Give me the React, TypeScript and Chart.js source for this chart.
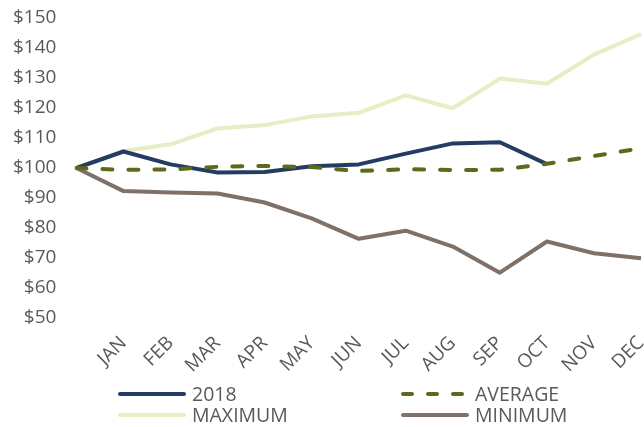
import React, { useEffect, useRef } from "react";
import { Chart, registerables } from "chart.js";

Chart.register(...registerables);

const categories = ["", "JAN", "FEB", "MAR", "APR", "MAY", "JUN", "JUL", "AUG", "SEP", "OCT", "NOV", "DEC"];
const series2018 = [100, 105.5, 101.2, 98.5, 98.7, 100.6, 101.2, 104.8, 108.2, 108.6, 101.3, null, null];
const seriesAverage = [100, 99.4, 99.5, 100.4, 100.7, 100.3, 99.0, 99.6, 99.3, 99.4, 101.4, 104.0, 106.6];
const seriesMaximum = [100, 105.7, 107.9, 113.2, 114.3, 117.2, 118.4, 124.2, 119.9, 129.8, 128.1, 137.8, 144.6];
const seriesMinimum = [100, 92.3, 91.8, 91.5, 88.5, 83.2, 76.4, 79.1, 73.8, 65.1, 75.5, 71.6, 69.9];
const yTickMin = 50;
const yTickMax = 150;
const yTickStep = 10;

const FONT = "'Open Sans', 'Noto Sans', sans-serif";
const TEXT = "#595959";

const legendItems = [
  { label: "2018", color: "#253b62", dash: false },
  { label: "AVERAGE", color: "#5f691c", dash: true },
  { label: "MAXIMUM", color: "#e7edc4", dash: false },
  { label: "MINIMUM", color: "#7f7168", dash: false },
];

function LegendEntry({ label, color, dash }: { label: string; color: string; dash: boolean }) {
  return (
    <div style={{ display: "flex", alignItems: "center", height: 21 }}>
      <svg width={68} height={8} style={{ display: "block" }}>
        <line
          x1={2}
          y1={4}
          x2={66}
          y2={4}
          stroke={color}
          strokeWidth={4}
          strokeLinecap="round"
          strokeDasharray={dash ? "9 16" : undefined}
        />
      </svg>
      <span style={{ marginLeft: 6, fontFamily: FONT, fontSize: 19.5, color: TEXT, lineHeight: "21px" }}>{label}</span>
    </div>
  );
}

export default function App() {
  const ref = useRef<HTMLCanvasElement>(null);

  useEffect(() => {
    document.body.style.margin = "0";
    const Y_PAD = 20;
    const chart = new Chart(ref.current!, {
      type: "line",
      data: {
        labels: categories,
        datasets: [
          {
            label: "2018",
            data: series2018,
            borderColor: legendItems[0].color,
            borderWidth: 4,
            order: 1,
          },
          {
            label: "AVERAGE",
            data: seriesAverage,
            borderColor: legendItems[1].color,
            borderWidth: 4,
            borderDash: [10, 16],
            borderCapStyle: "round",
            order: 0,
          },
          {
            label: "MAXIMUM",
            data: seriesMaximum,
            borderColor: legendItems[2].color,
            borderWidth: 4,
            order: 2,
          },
          {
            label: "MINIMUM",
            data: seriesMinimum,
            borderColor: legendItems[3].color,
            borderWidth: 4,
            order: 3,
          },
        ],
      },
      options: {
        animation: false,
        responsive: false,
        maintainAspectRatio: false,
        elements: {
          point: { radius: 0, hoverRadius: 0 },
          line: { tension: 0, borderJoinStyle: "round", fill: false },
        },
        layout: { padding: { left: 13, top: 18, right: 3, bottom: 36 } },
        plugins: { legend: { display: false }, tooltip: { enabled: false } },
        scales: {
          x: {
            grid: { display: false, drawTicks: false },
            border: { display: false },
            afterFit: (scale: any) => {
              scale.paddingRight = 0;
              scale.paddingLeft = 0;
            },
            ticks: {
              autoSkip: false,
              maxRotation: 45,
              minRotation: 45,
              color: TEXT,
              font: { family: FONT, size: 19 },
              padding: 14,
            },
          },
          y: {
            min: yTickMin,
            max: yTickMax,
            grid: { display: false, drawTicks: false },
            border: { display: false },
            afterFit: (scale: any) => {
              scale.paddingTop = 0;
              scale.paddingBottom = 0;
              scale.width = scale.width - Y_PAD;
            },
            ticks: {
              stepSize: yTickStep,
              color: TEXT,
              font: { family: FONT, size: 19 },
              padding: Y_PAD,
              callback: (v: any) => "$" + v,
            },
          },
        },
      },
    });
    return () => chart.destroy();
  }, []);

  return (
    <div style={{ position: "relative", width: 644, height: 427, background: "#fff" }}>
      <canvas ref={ref} width={644} height={427} style={{ display: "block" }} />
      <div style={{ position: "absolute", left: 118, top: 383, width: 280 }}>
        <LegendEntry {...legendItems[0]} />
        <LegendEntry {...legendItems[2]} />
      </div>
      <div style={{ position: "absolute", left: 401, top: 383, width: 240 }}>
        <LegendEntry {...legendItems[1]} />
        <LegendEntry {...legendItems[3]} />
      </div>
    </div>
  );
}
